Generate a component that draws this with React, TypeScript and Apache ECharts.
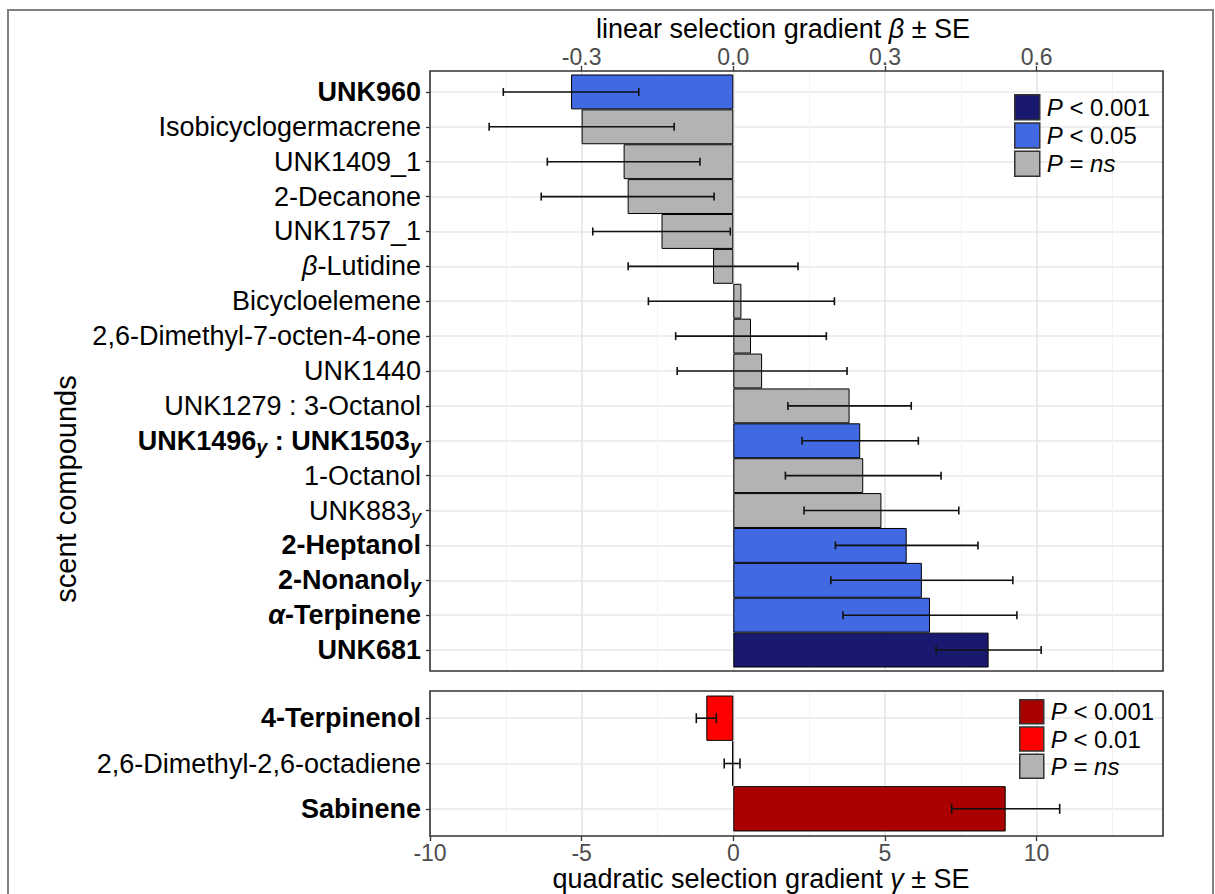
import React, { useEffect, useRef } from "react";
import * as echarts from "echarts";

// ---------- data ----------
const linearCompounds = [
  "UNK960", "Isobicyclogermacrene", "UNK1409_1", "2-Decanone", "UNK1757_1",
  "β-Lutidine", "Bicycloelemene", "2,6-Dimethyl-7-octen-4-one", "UNK1440",
  "UNK1279 : 3-Octanol", "UNK1496y : UNK1503y", "1-Octanol", "UNK883y",
  "2-Heptanol", "2-Nonanoly", "α-Terpinene", "UNK681",
];
const linearLabelMarkup = [
  "{b|UNK960}", "{n|Isobicyclogermacrene}", "{n|UNK1409_1}", "{n|2-Decanone}", "{n|UNK1757_1}",
  "{ni|β}{n|-Lutidine}", "{n|Bicycloelemene}", "{n|2,6-Dimethyl-7-octen-4-one}", "{n|UNK1440}",
  "{n|UNK1279 : 3-Octanol}", "{b|UNK1496}{bs|y}{b| : UNK1503}{bs|y}", "{n|1-Octanol}", "{n|UNK883}{s|y}",
  "{b|2-Heptanol}", "{b|2-Nonanol}{bs|y}", "{bi|α}{b|-Terpinene}", "{b|UNK681}",
];
const linearBeta = [
  -0.321, -0.300, -0.217, -0.209, -0.142, -0.040, 0.016, 0.035, 0.057,
  0.230, 0.251, 0.257, 0.293, 0.343, 0.373, 0.389, 0.505,
];
const linearSE = [
  0.134, 0.183, 0.151, 0.171, 0.136, 0.168, 0.184, 0.149, 0.168,
  0.122, 0.115, 0.154, 0.153, 0.141, 0.180, 0.172, 0.104,
];
const linearSig = [
  "p05", "ns", "ns", "ns", "ns", "ns", "ns", "ns", "ns",
  "ns", "p05", "ns", "ns", "p05", "p05", "p05", "p001",
];
const linearLevels = ["p001", "p05", "ns"];
const linearLegendLabels = ["{i|P} < 0.001", "{i|P} < 0.05", "{i|P} = {i|ns}"];
const linearColors = ["#191970", "#4169E1", "#B3B3B3"];

const quadCompounds = ["4-Terpinenol", "2,6-Dimethyl-2,6-octadiene", "Sabinene"];
const quadLabelMarkup = ["{b|4-Terpinenol}", "{n|2,6-Dimethyl-2,6-octadiene}", "{b|Sabinene}"];
const quadGamma = [-0.89, -0.04, 8.98];
const quadSE = [0.33, 0.26, 1.78];
const quadSig = ["p01", "ns", "p001"];
const quadLevels = ["p001", "p01", "ns"];
const quadLegendLabels = ["{i|P} < 0.001", "{i|P} < 0.01", "{i|P} = {i|ns}"];
const quadColors = ["#AA0000", "#FF0000", "#B3B3B3"];

// axis ranges / ticks
const betaMin = -0.6, betaMax = 0.85, betaMinor = 0.15;
const betaTicks = [-0.3, 0.0, 0.3, 0.6];
const gammaMin = -10, gammaMax = 14.1667, gammaMinor = 2.5;
const gammaTicks = [-10, -5, 0, 5, 10];

// ---------- layout ----------
const FONT = "'Liberation Sans', Arial, Helvetica, sans-serif";
const TOP = { left: 430, top: 71, width: 733, height: 600 };
const BOT = { left: 430, top: 691, width: 733, height: 145 };

type Rect = { left: number; top: number; width: number; height: number };

function inner(p: Rect, n: number): Rect {
  const u = p.height / (n - 1 + 1.2);
  return { left: p.left, width: p.width, top: p.top + 0.6 * u, height: (n - 1) * u };
}
// sub-rectangle of a panel spanning [a, b] of an axis whose full range is [min, max]
function span(p: Rect, min: number, max: number, a: number, b: number): Rect {
  const x0 = p.left + ((a - min) / (max - min)) * p.width;
  const x1 = p.left + ((b - min) / (max - min)) * p.width;
  return { left: x0, width: x1 - x0, top: p.top, height: p.height };
}

const LABEL_SIZE = 27;
const labelRich = {
  n: { fontSize: LABEL_SIZE, fontFamily: FONT, color: "#000", lineHeight: 32 },
  b: { fontSize: LABEL_SIZE, fontFamily: FONT, color: "#000", fontWeight: "bold", lineHeight: 32 },
  ni: { fontSize: LABEL_SIZE, fontFamily: FONT, color: "#000", fontStyle: "italic", lineHeight: 32 },
  bi: { fontSize: LABEL_SIZE, fontFamily: FONT, color: "#000", fontStyle: "italic", fontWeight: "bold", lineHeight: 32 },
  s: { fontSize: 20, fontFamily: FONT, color: "#000", fontStyle: "italic", lineHeight: 19, verticalAlign: "bottom" },
  bs: { fontSize: 20, fontFamily: FONT, color: "#000", fontStyle: "italic", fontWeight: "bold", lineHeight: 19, verticalAlign: "bottom" },
};

export default function App() {
  const ref = useRef<HTMLDivElement>(null);

  useEffect(() => {
    if (!ref.current) return;
    const chart = echarts.init(ref.current, undefined, { renderer: "svg" });

    const topInner = inner(TOP, linearCompounds.length);
    const botInner = inner(BOT, quadCompounds.length);
    const topTickRect = span(TOP, betaMin, betaMax, betaTicks[0], betaTicks[betaTicks.length - 1]);
    const botTickRect = span(BOT, gammaMin, gammaMax, gammaTicks[0], gammaTicks[gammaTicks.length - 1]);
    const betaStep = betaTicks[1] - betaTicks[0];
    const gammaStep = gammaTicks[1] - gammaTicks[0];

    const tickLabelStyle = { fontSize: 23, color: "#4D4D4D", fontFamily: FONT };
    const minorSplit = { show: true, lineStyle: { color: "#F2F2F2", width: 1 } };
    const majorSplit = { show: true, lineStyle: { color: "#E8E8E8", width: 1.6 } };
    const tickStyle = { show: true, length: 5, lineStyle: { color: "#333", width: 1.3 } };
    const g = { containLabel: false, outerBoundsMode: "none" };

    const linearSeries = linearLevels.map((lvl, k) => ({
      type: "bar",
      name: "lin-" + lvl,
      xAxisIndex: 2,
      yAxisIndex: 1,
      stack: "lin",
      barCategoryGap: "0%",
      barWidth: "100%",
      clip: false,
      itemStyle: { color: linearColors[k], borderColor: "#000", borderWidth: 1 },
      data: linearBeta.map((v, i) => (linearSig[i] === lvl ? v : null)),
      z: 2,
    }));
    const quadSeries = quadLevels.map((lvl, k) => ({
      type: "bar",
      name: "quad-" + lvl,
      xAxisIndex: 5,
      yAxisIndex: 3,
      stack: "quad",
      barCategoryGap: "0%",
      barWidth: "100%",
      clip: false,
      itemStyle: { color: quadColors[k], borderColor: "#000", borderWidth: 1 },
      data: quadGamma.map((v, i) => (quadSig[i] === lvl ? v : null)),
      z: 2,
    }));

    const errRender = (cap: number) => (_params: any, api: any) => {
      const idx = api.value(2);
      const a = api.coord([api.value(0), idx]);
      const b = api.coord([api.value(1), idx]);
      const st = { stroke: "#111", lineWidth: 1.6, fill: null };
      return {
        type: "group",
        children: [
          { type: "line", shape: { x1: a[0], y1: a[1], x2: b[0], y2: b[1] }, style: st },
          { type: "line", shape: { x1: a[0], y1: a[1] - cap, x2: a[0], y2: a[1] + cap }, style: st },
          { type: "line", shape: { x1: b[0], y1: b[1] - cap, x2: b[0], y2: b[1] + cap }, style: st },
        ],
      };
    };

    const legendLabelMap: Record<string, string> = {};
    linearLevels.forEach((l, k) => (legendLabelMap["lin-" + l] = linearLegendLabels[k]));
    quadLevels.forEach((l, k) => (legendLabelMap["quad-" + l] = quadLegendLabels[k]));
    const legendRich = { i: { fontStyle: "italic", fontSize: 24, fontFamily: FONT, color: "#000", lineHeight: 25 } };

    const catAxis = (gridIndex: number, data: string[], markup: string[]) => ({
      type: "category", gridIndex, data, inverse: true, boundaryGap: false,
      axisLine: { show: false, onZero: false },
      axisTick: { show: true, length: 4, lineStyle: { color: "#333", width: 1.3 } },
      axisLabel: {
        margin: 9, interval: 0,
        formatter: (_v: string, i: number) => markup[i],
        rich: labelRich,
      },
      splitLine: { show: true, lineStyle: { color: "#E8E8E8", width: 1.6 } },
    });

    const option: any = {
      animation: false,
      backgroundColor: "#fff",
      grid: [
        { ...TOP, ...g, show: true, backgroundColor: "#fff", borderWidth: 0 },
        { ...topInner, ...g },
        { ...BOT, ...g, show: true, backgroundColor: "#fff", borderWidth: 0 },
        { ...botInner, ...g },
        { ...topTickRect, ...g },
        { ...botTickRect, ...g },
      ],
      xAxis: [
        {
          type: "value", gridIndex: 0, position: "top", min: betaMin, max: betaMax, interval: betaMinor,
          axisLine: { show: false }, axisTick: { show: false }, axisLabel: { show: false }, splitLine: minorSplit,
        },
        {
          type: "value", gridIndex: 4, position: "top",
          min: betaTicks[0], max: betaTicks[betaTicks.length - 1], interval: betaStep,
          axisLine: { show: false, onZero: false },
          axisTick: tickStyle,
          axisLabel: {
            ...tickLabelStyle, margin: 3,
            formatter: (v: number) => (Math.abs(v) < 1e-9 ? "0.0" : v.toFixed(1)),
          },
          splitLine: majorSplit,
        },
        { type: "value", gridIndex: 1, min: betaMin, max: betaMax, show: false, splitLine: { show: false } },
        {
          type: "value", gridIndex: 2, position: "bottom", min: gammaMin, max: gammaMax, interval: gammaMinor,
          axisLine: { show: false }, axisTick: { show: false }, axisLabel: { show: false }, splitLine: minorSplit,
        },
        {
          type: "value", gridIndex: 5, position: "bottom",
          min: gammaTicks[0], max: gammaTicks[gammaTicks.length - 1], interval: gammaStep,
          axisLine: { show: false, onZero: false },
          axisTick: tickStyle,
          axisLabel: {
            ...tickLabelStyle, margin: 5,
            formatter: (v: number) => String(Math.round(v)),
          },
          splitLine: majorSplit,
        },
        { type: "value", gridIndex: 3, min: gammaMin, max: gammaMax, show: false, splitLine: { show: false } },
      ],
      yAxis: [
        { type: "value", gridIndex: 0, min: 0, max: 1, show: false },
        catAxis(1, linearCompounds, linearLabelMarkup),
        { type: "value", gridIndex: 2, min: 0, max: 1, show: false },
        catAxis(3, quadCompounds, quadLabelMarkup),
        { type: "value", gridIndex: 4, min: 0, max: 1, show: false },
        { type: "value", gridIndex: 5, min: 0, max: 1, show: false },
      ],
      legend: [
        {
          data: linearLevels.map((l) => "lin-" + l),
          orient: "vertical", left: 1014, top: 94, padding: 0,
          itemWidth: 25, itemHeight: 25, itemGap: 1.7,
          icon: "rect", selectedMode: false,
          itemStyle: { borderColor: "#333", borderWidth: 1.5 },
          formatter: (n: string) => legendLabelMap[n],
          textStyle: { fontSize: 24, fontFamily: FONT, color: "#000", lineHeight: 25, rich: legendRich, padding: [0, 0, 0, 2] },
        },
        {
          data: quadLevels.map((l) => "quad-" + l),
          orient: "vertical", left: 1019, top: 699, padding: 0,
          itemWidth: 24, itemHeight: 24, itemGap: 1.8,
          icon: "rect", selectedMode: false,
          itemStyle: { borderColor: "#333", borderWidth: 1.5 },
          formatter: (n: string) => legendLabelMap[n],
          textStyle: { fontSize: 24, fontFamily: FONT, color: "#000", lineHeight: 24, rich: legendRich, padding: [0, 0, 0, 2] },
        },
      ],
      series: [
        ...linearSeries,
        ...quadSeries,
        {
          type: "custom", name: "lin-err", xAxisIndex: 2, yAxisIndex: 1, z: 5, clip: false,
          encode: { x: [0, 1], y: 2 },
          renderItem: errRender(4),
          data: linearBeta.map((v, i) => [v - linearSE[i], v + linearSE[i], i]),
        },
        {
          type: "custom", name: "quad-err", xAxisIndex: 5, yAxisIndex: 3, z: 5, clip: false,
          encode: { x: [0, 1], y: 2 },
          renderItem: errRender(5),
          data: quadGamma.map((v, i) => [v - quadSE[i], v + quadSE[i], i]),
        },
      ],
      graphic: [
        {
          type: "rect", z: 100, silent: true,
          shape: { x: TOP.left, y: TOP.top, width: TOP.width, height: TOP.height },
          style: { fill: "none", stroke: "#333", lineWidth: 1.6 },
        },
        {
          type: "rect", z: 100, silent: true,
          shape: { x: BOT.left, y: BOT.top, width: BOT.width, height: BOT.height },
          style: { fill: "none", stroke: "#333", lineWidth: 1.6 },
        },
        {
          type: "text", x: 783, y: 29, z: 100,
          style: {
            text: "linear selection gradient {i|β} ± SE",
            fontSize: 27, fontFamily: FONT, fill: "#000", align: "center", verticalAlign: "middle",
            rich: { i: { fontStyle: "italic", fontSize: 27, fontFamily: FONT, fill: "#000" } },
          },
        },
        {
          type: "text", x: 761, y: 879, z: 100,
          style: {
            text: "quadratic selection gradient {i|γ} ± SE",
            fontSize: 27, fontFamily: FONT, fill: "#000", align: "center", verticalAlign: "middle",
            rich: { i: { fontStyle: "italic", fontSize: 27, fontFamily: FONT, fill: "#000" } },
          },
        },
        {
          type: "text", x: 66, y: 489, rotation: Math.PI / 2, z: 100,
          style: {
            text: "scent compounds",
            fontSize: 29, fontFamily: FONT, fill: "#000", align: "center", verticalAlign: "middle",
          },
        },
      ],
    };

    chart.setOption(option);
    return () => chart.dispose();
  }, []);

  return (
    <>
      <div
        ref={ref}
        style={{ position: "fixed", left: 0, top: 0, width: 1215, height: 894, background: "#fff" }}
      />
      <div
        style={{
          position: "fixed", left: 7, top: 9, width: 1207, height: 1000,
          border: "2px solid #808080", boxSizing: "border-box", pointerEvents: "none", zIndex: 10,
        }}
      />
    </>
  );
}
